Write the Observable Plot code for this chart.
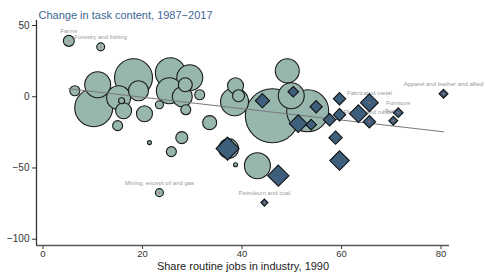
<!DOCTYPE html>
<html><head><meta charset="utf-8">
<script src="https://cdn.jsdelivr.net/npm/d3@7"></script>
<script src="https://cdn.jsdelivr.net/npm/@observablehq/plot@0.6"></script>
<style>body{margin:0;background:#fff} svg{display:block}</style>
</head><body><div id="chart"></div>
<script>
// Non-manufacturing industries (circles)
const circleShare  = [5.2, 11.6, 6.4, 11.0, 10.2, 15.2, 15.8, 16.2, 18.2, 19.2, 20.4, 15.0, 23.4, 25.6, 29.5, 28.6, 25.4, 28.0, 31.5, 28.7, 33.5, 27.9, 21.4, 25.8, 23.4, 37.3, 38.7, 43.1, 38.7, 39.3, 38.5, 49.1, 46.1, 53.2, 49.9];
const circleChange = [39.2, 35.0, 4.2, 8.4, -7.7, -0.7, -2.8, -9.8, 13.3, 4.2, -11.9, -20.3, -5.6, 16.8, 13.3, 8.4, 4.2, 0, 1.4, -9.1, -18.2, -28.7, -32.2, -38.5, -67.3, -36.4, -47.7, -48.4, 7.7, 0.7, -3.5, 18.2, -13.3, -9.8, 0.7];
const circleSize   = [30, 16, 25, 169, 361, 144, 9, 64, 361, 100, 64, 25, 16, 225, 169, 49, 169, 100, 25, 25, 49, 36, 4, 25, 16, 100, 4, 169, 64, 36, 196, 144, 729, 441, 169];
const circleName   = ["Farms", "Forestry and fishing", "", "", "", "", "", "", "", "", "", "", "", "", "", "", "", "", "", "", "", "", "", "", "Mining, except oil and gas", "", "", "", "", "", "", "", "", "", ""];

// Manufacturing industries (diamonds)
const diamondShare  = [44.1, 50.3, 54.9, 59.6, 51.3, 53.9, 57.6, 59.6, 63.4, 65.6, 65.6, 71.4, 70.4, 80.5, 58.8, 59.6, 37.1, 47.3, 44.5];
const diamondChange = [-2.8, 3.5, -7.0, -1.4, -18.9, -19.6, -16.1, -12.6, -11.9, -4.2, -17.5, -11.2, -16.8, 2.1, -28.7, -44.8, -36.4, -55.4, -74.3];
const diamondSize   = [41, 23, 31, 31, 64, 23, 31, 31, 64, 64, 31, 19, 16, 16, 36, 77, 108, 92, 10];
const diamondName   = ["", "", "", "", "", "", "", "", "", "Fabricated metal", "Plastics and rubber", "Furniture", "Textile", "Apparel and leather and allied", "", "", "", "", "Petroleum and coal"];

// Fitted line
const fitShare  = [5.2, 80.5];
const fitChange = [5.6, -24.6];

const xTicks = [0, 20, 40, 60, 80];
const yTicks = [50, 0, -50, -100];
const xDomain = [-1.3, 81.7];
const yDomain = [-104.4, 53.5];
const title = "Change in task content, 1987−2017";
const xLabel = "Share routine jobs in industry, 1990";

const circles = circleShare.map((x, i) => ({x, y: circleChange[i], size: circleSize[i], name: circleName[i]}));
const diamonds = diamondShare.map((x, i) => ({x, y: diamondChange[i], size: diamondSize[i], name: diamondName[i]}));
const labeled = circles.concat(diamonds).filter(d => d.name);
const fit = fitShare.map((x, i) => ({x, y: fitChange[i]}));
const fmt = d => d < 0 ? "−" + (-d) : String(d);

const chart = Plot.plot({
  width: 485, height: 273,
  marginLeft: 36, marginRight: 36, marginTop: 20, marginBottom: 28,
  style: {fontFamily: "Liberation Sans, Arial, sans-serif", fontSize: "10px", color: "#333", background: "#fff"},
  x: {domain: xDomain},
  y: {domain: yDomain},
  r: {domain: [0, 800], range: [0, Math.sqrt(800)]},
  marks: [
    Plot.axisX({ticks: xTicks, tickSize: 4, tickPadding: 1, label: null, tickFormat: fmt, stroke: "#333", fontSize: 9.5}),
    Plot.axisY({ticks: yTicks, tickSize: 4, tickPadding: 3, label: null, tickFormat: fmt, stroke: "#333"}),
    Plot.ruleX([xDomain[0]], {stroke: "#333", strokeWidth: 1.3}),
    Plot.ruleY([yDomain[0]], {stroke: "#555", strokeWidth: 1.3}),
    Plot.text([title], {frameAnchor: "top-left", dx: 2, dy: -9, textAnchor: "start", fontSize: 11, fill: "#3d6694"}),
    Plot.text([xLabel], {frameAnchor: "bottom", dy: 24, fontSize: 11, fill: "#222"}),
    Plot.text(labeled, {x: "x", y: "y", text: "name", dy: -10, fontSize: 6, fill: "#9a9a9a"}),
    Plot.dot(circles, {x: "x", y: "y", r: "size", fill: "#97b7ae", stroke: "#1a1a1a", strokeWidth: 1.1}),
    Plot.line(fit, {x: "x", y: "y", stroke: "#777", strokeWidth: 1}),
    Plot.dot(diamonds, {x: "x", y: "y", r: "size", symbol: "diamond2", fill: "#3e5f7b", stroke: "#111", strokeWidth: 1.1}),
    Plot.dot(labeled, {x: "x", y: "y", r: 0.8, fill: "#d27070"})
  ]
});
document.getElementById("chart").appendChild(chart);
</script>
</body></html>
